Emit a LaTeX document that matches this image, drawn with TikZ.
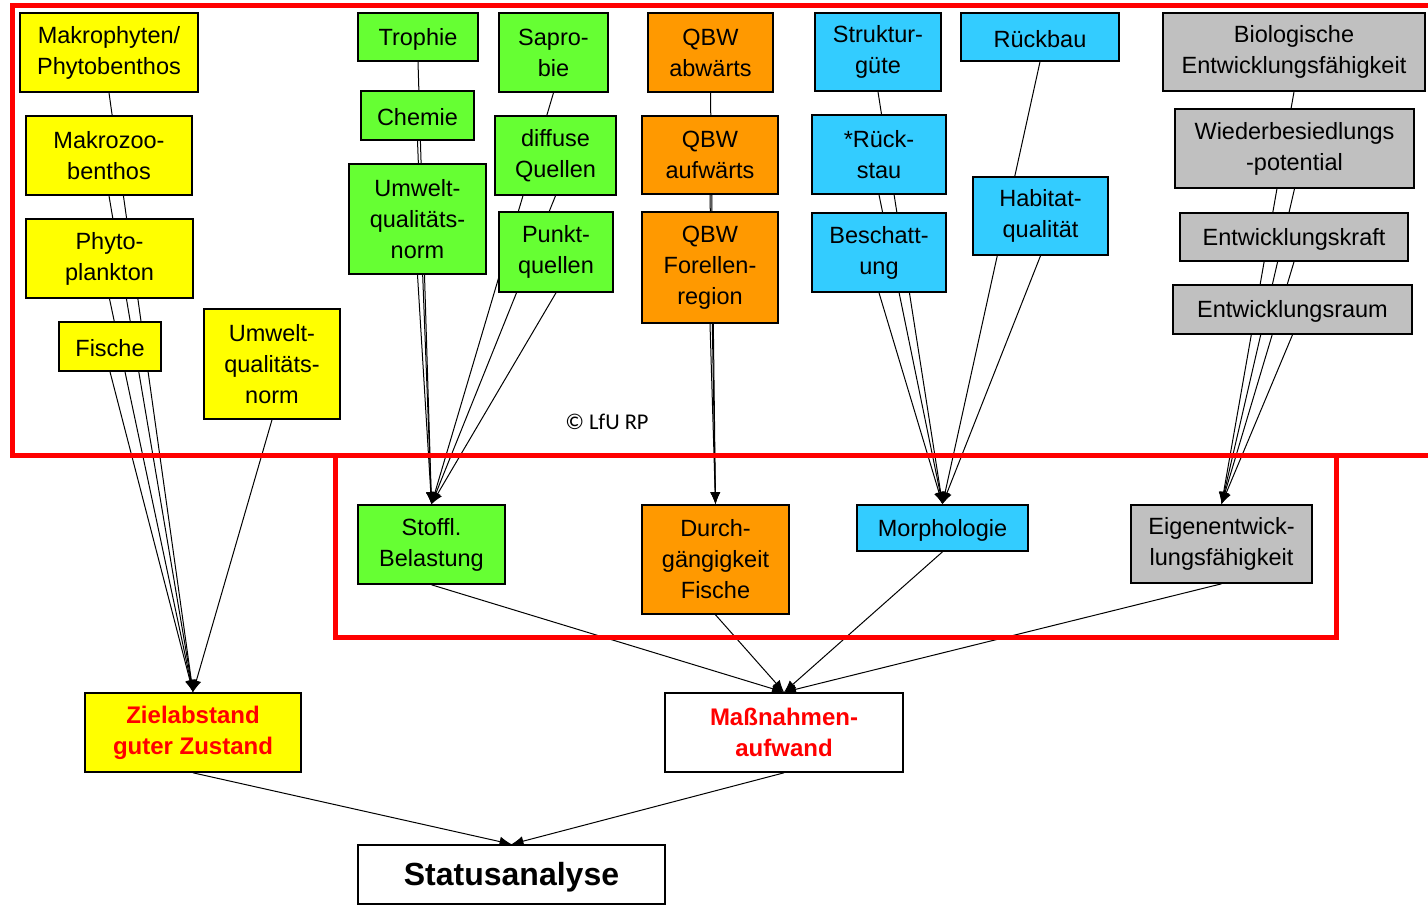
\documentclass[tikz,border=0pt]{standalone}
\usepackage{fontspec}
\setmainfont{Liberation Sans}
\newfontfamily\lfufont{Carlito}
\usepackage{tikz}
\usetikzlibrary{arrows.meta, backgrounds}
\definecolor{bgelb}{HTML}{FFFF00}
\definecolor{bgruen}{HTML}{66FF33}
\definecolor{borange}{HTML}{FF9900}
\definecolor{bblau}{HTML}{33CCFF}
\definecolor{bgrau}{HTML}{C0C0C0}
\tikzset{>={Latex[length=12pt,width=10pt]}}
\tikzset{
  kasten/.style={draw=black, line width=1.6pt, align=center, inner sep=0pt,
    font=\fontsize{23.5}{31}\selectfont, execute at begin node={\rule{0pt}{0.9em}}},
  gelb/.style={kasten, fill=bgelb},
  gruen/.style={kasten, fill=bgruen},
  orange/.style={kasten, fill=borange},
  blau/.style={kasten, fill=bblau},
  grau/.style={kasten, fill=bgrau},
  weiss/.style={kasten, fill=white},
  ergebnis/.style={text=red, font=\fontsize{24}{31}\selectfont\bfseries},
  rahmen/.style={draw=red, line width=5pt},
  pfeil/.style={->, line width=1pt}
}

\begin{document}
\begin{tikzpicture}[x=1pt, y=-1pt]
\useasboundingbox (0,0) rectangle (1428,906);

% Biologie
\node[gelb, minimum width=178pt, minimum height=79pt] (makro) at (109,52.5) {Makrophyten/\\Phytobenthos};
\node[gelb, minimum width=166pt, minimum height=79pt] (zoo) at (109,155.5) {Makrozoo-\\benthos};
\node[gelb, minimum width=167pt, minimum height=79pt] (phyto) at (109.5,258.5) {Phyto-\\plankton};
\node[gelb, minimum width=102pt, minimum height=49pt] (fische) at (110,346.5) {Fische};
\node[gelb, minimum width=136pt, minimum height=110pt] (uqngelb) at (272,364) {Umwelt-\\qualitäts-\\norm};

% Stoffe
\node[gruen, minimum width=120pt, minimum height=48pt] (trophie) at (418,37) {Trophie};
\node[gruen, minimum width=113pt, minimum height=49pt] (chemie) at (417.5,115.5) {Chemie};
\node[gruen, minimum width=137pt, minimum height=110pt] (uqngruen) at (417.5,219) {Umwelt-\\qualitäts-\\norm};
\node[gruen, minimum width=109pt, minimum height=79pt] (saprobie) at (553.5,52.5) {Sapro-\\bie};
\node[gruen, minimum width=121pt, minimum height=79pt] (diffus) at (555.5,155.5) {diffuse\\Quellen};
\node[gruen, minimum width=114pt, minimum height=80pt] (punkt) at (556,252) {Punkt-\\quellen};

% Durchgaengigkeit
\node[orange, minimum width=125pt, minimum height=79pt] (qbwab) at (710.5,52.5) {QBW\\abwärts};
\node[orange, minimum width=136pt, minimum height=78pt] (qbwauf) at (710,155) {QBW\\aufwärts};
\node[orange, minimum width=136pt, minimum height=111pt] (qbwforelle) at (710,267.5) {QBW\\Forellen-\\region};

% Morphologie
\node[blau, minimum width=126pt, minimum height=78pt] (struktur) at (878,52) {Struktur-\\güte};
\node[blau, minimum width=134pt, minimum height=79pt] (rueckstau) at (879,154.5) {*Rück-\\stau};
\node[blau, minimum width=134pt, minimum height=79pt] (schatten) at (879,252.5) {Beschatt-\\ung};
\node[blau, minimum width=158pt, minimum height=48pt] (rueckbau) at (1040,37) {Rückbau};
\node[blau, minimum width=135pt, minimum height=78pt] (habitat) at (1040.5,216) {Habitat-\\qualität};

% Eigenentwicklung
\node[grau, minimum width=262pt, minimum height=78pt] (biol) at (1294,52) {Biologische\\Entwicklungsfähigkeit};
\node[grau, minimum width=239pt, minimum height=79pt] (wieder) at (1294.5,148.5) {Wiederbesiedlungs\\-potential};
\node[grau, minimum width=228pt, minimum height=48pt] (kraft) at (1294,237) {Entwicklungskraft};
\node[grau, minimum width=239pt, minimum height=49pt] (raum) at (1292.5,309.5) {Entwicklungsraum};

\node[font=\lfufont\fontsize{22.5}{27}\selectfont] (lfu) at (607,422) {© LfU RP};

% Teilergebnisse
\node[gruen, minimum width=147pt, minimum height=79pt] (stoffl) at (431.5,544.5) {Stoffl.\\Belastung};
\node[orange, minimum width=147pt, minimum height=109pt] (durch) at (715.5,559.5) {Durch-\\gängigkeit\\Fische};
\node[blau, minimum width=171pt, minimum height=46pt] (morph) at (942.5,528) {Morphologie};
\node[grau, minimum width=181pt, minimum height=78pt] (eigen) at (1221.5,544) {Eigenentwick-\\lungsfähigkeit};

\node[gelb, ergebnis, minimum width=216pt, minimum height=79pt] (ziel) at (193,732.5) {Zielabstand\\guter Zustand};
\node[weiss, ergebnis, minimum width=238pt, minimum height=79pt] (aufwand) at (784,732.5) {Maßnahmen-\\aufwand};
\node[weiss, font=\fontsize{32}{36}\selectfont\bfseries, minimum width=307pt, minimum height=59pt] (status) at (511.5,874.5) {Statusanalyse};

\begin{scope}[on background layer]
\foreach \s in {makro, zoo, phyto, fische, uqngelb}
  \draw[pfeil] (\s.south) -- (ziel.north);
\foreach \s in {trophie, chemie, uqngruen, saprobie, diffus, punkt}
  \draw[pfeil] (\s.south) -- (stoffl.north);
\foreach \s in {qbwab, qbwauf, qbwforelle}
  \draw[pfeil] (\s.south) -- (durch.north);
\foreach \s in {struktur, rueckstau, schatten, rueckbau, habitat}
  \draw[pfeil] (\s.south) -- (morph.north);
\foreach \s in {biol, wieder, kraft, raum}
  \draw[pfeil] (\s.south) -- (eigen.north);
\foreach \s in {stoffl, durch, morph, eigen}
  \draw[pfeil] (\s.south) -- (aufwand.north);
\draw[pfeil] (ziel.south) -- (status.north);
\draw[pfeil] (aufwand.south) -- (status.north);
\end{scope}

% rote Rahmen
\draw[rahmen] (1440,5) -- (12,5) -- (12,455) -- (1440,455);
\draw[rahmen] (335,455) rectangle (1336,637);
\end{tikzpicture}
\end{document}
